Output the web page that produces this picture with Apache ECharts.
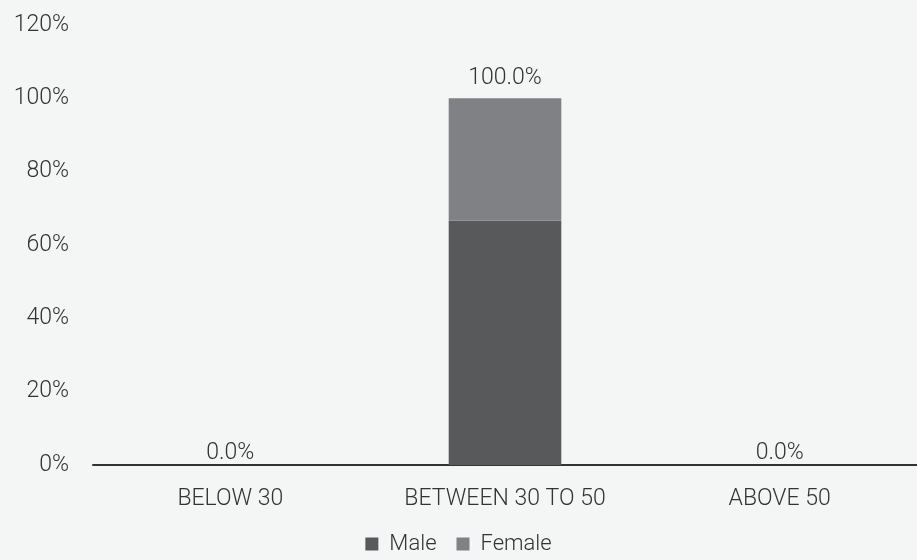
<!DOCTYPE html>
<html>
<head>
<meta charset="utf-8">
<script src="https://cdn.jsdelivr.net/npm/echarts@6/dist/echarts.min.js"></script>
<style>
  html, body { margin: 0; padding: 0; background: #f4f5f5; }
  #chart { width: 917px; height: 560px; }
</style>
</head>
<body>
<div id="chart"></div>
<script>
const categories = ['BELOW 30', 'BETWEEN 30 TO 50', 'ABOVE 50'];
const maleValues = [0, 66.7, 0];
const femaleValues = [0, 33.3, 0];
const yTicks = [0, 20, 40, 60, 80, 100, 120];

const textColor = '#333333';
const fontFamily = 'Roboto, "Liberation Sans", sans-serif';

const chart = echarts.init(document.getElementById('chart'));

// zero-height stacks get their label close to the axis line
const femaleData = femaleValues.map((v, i) => ({
  value: v,
  label: { distance: maleValues[i] + v === 0 ? 0 : 9 }
}));

const option = {
  backgroundColor: '#f4f5f5',
  textStyle: { fontFamily: fontFamily, fontWeight: 300, color: textColor },
  grid: { left: 93, right: -4, top: 25, bottom: 95 },
  legend: {
    bottom: 0,
    left: 'center',
    icon: 'rect',
    itemWidth: 13,
    itemHeight: 13,
    itemGap: 20,
    textStyle: { fontSize: 22, color: textColor, fontWeight: 300, padding: [0, 0, 0, 6] },
    data: ['Male', 'Female']
  },
  xAxis: {
    type: 'category',
    data: categories,
    axisTick: { show: false },
    axisLine: { lineStyle: { color: '#333333', width: 2 } },
    axisLabel: { fontSize: 23, color: textColor, fontWeight: 300, margin: 23 }
  },
  yAxis: {
    type: 'value',
    min: yTicks[0],
    max: yTicks[yTicks.length - 1],
    interval: 20,
    splitLine: { show: false },
    axisLine: { show: false },
    axisTick: { show: false },
    axisLabel: { fontSize: 23, color: textColor, fontWeight: 300, margin: 24, formatter: '{value}%' }
  },
  series: [
    {
      name: 'Male',
      type: 'bar',
      stack: 'total',
      barWidth: '41%',
      itemStyle: { color: '#58595b' },
      data: maleValues
    },
    {
      name: 'Female',
      type: 'bar',
      stack: 'total',
      itemStyle: { color: '#808184' },
      label: {
        show: true,
        position: 'top',
        fontSize: 23,
        fontWeight: 300,
        color: textColor,
        formatter: p => (maleValues[p.dataIndex] + femaleValues[p.dataIndex]).toFixed(1) + '%'
      },
      data: femaleData
    }
  ]
};

chart.setOption(option);
</script>
</body>
</html>
